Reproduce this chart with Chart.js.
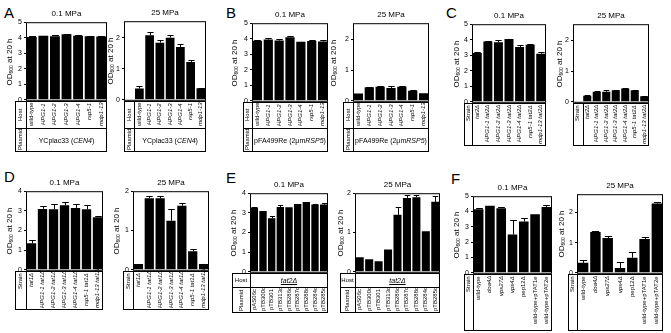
<!DOCTYPE html>
<html>
<head>
<meta charset="utf-8">
<script src="https://cdn.jsdelivr.net/npm/chart.js@4.4.1/dist/chart.umd.min.js"></script>
<style>
  body { margin: 0; width: 671px; height: 333px; position: relative; background: #fff; overflow: hidden;
         font-family: "Liberation Sans", Arial, sans-serif; color: #000; }
  .abs { position: absolute; }
  .letter { font-size: 15px; line-height: 15px; }
  .title { font-size: 8px; line-height: 9px; text-align: center; }
  .ytitle { font-size: 8px; line-height: 9px; white-space: nowrap; transform: translate(-50%, -50%) rotate(-90deg); }
  .ytitle sub { font-size: 5px; vertical-align: -1px; }
  .frame { border: 1px solid #000; box-sizing: border-box; }
  .vline { border-left: 1px solid #000; width: 0; }
  .hline { border-top: 1px solid #000; height: 0; }
  .vtxt { writing-mode: vertical-rl; transform: rotate(180deg); font-size: 6px; line-height: 7px; width: 7px; white-space: nowrap; }
  .span { font-size: 7px; display: flex; align-items: center; justify-content: center; white-space: nowrap; }
</style>
</head>
<body>
<script>
Chart.defaults.font.family = '"Liberation Sans", Arial, sans-serif';

// category labels
const hpgHosts = ['wild-type', 'HPG1-1', 'HPG1-2', 'HPG1-3', 'HPG1-4', 'rsp5-1', 'mdp1-13'];
const tat2Strains = ['tat2Δ', 'HPG1-1 tat2Δ', 'HPG1-2 tat2Δ', 'HPG1-3 tat2Δ', 'HPG1-4 tat2Δ', 'rsp5-1 tat2Δ', 'mdp1-13 tat2Δ'];
const tat1Strains = ['tat1Δ', 'HPG1-1 tat1Δ', 'HPG1-2 tat1Δ', 'HPG1-3 tat1Δ', 'HPG1-4 tat1Δ', 'rsp5-1 tat1Δ', 'mdp1-13 tat1Δ'];
const tatPlasmids = ['pAS06c', 'pTB300c', 'pTB301', 'pTB313c', 'pTB286c', 'pTB287c', 'pTB288c', 'pTB284c', 'pTB285c'];
const fStrains = ['wild-type', 'doa4Δ', 'vps27Δ', 'vps4Δ', 'pep12Δ', 'wild-type+pTAT1e', 'wild-type+pTAT2e'];

// OD600 at 20 h, mean and upper error
const a01 = [4.05, 4.12, 4.1, 4.22, 4.12, 4.1, 4.08];
const a01Err = [0.04, 0.02, 0.05, 0.02, 0.08, 0.02, 0.05];
const a25 = [0.36, 2.08, 1.84, 2.0, 1.7, 1.22, 0.37];
const a25Err = [0.08, 0.1, 0.1, 0.1, 0.1, 0.05, 0.02];

const b01 = [3.87, 3.95, 3.88, 4.1, 3.8, 3.86, 3.82];
const b01Err = [0.02, 0.12, 0.08, 0.1, 0.02, 0.05, 0.08];
const b25 = [0.24, 0.44, 0.46, 0.42, 0.46, 0.33, 0.25];
const b25Err = [0, 0.01, 0.02, 0.06, 0.03, 0.01, 0];

const c01 = [3.15, 3.88, 3.83, 4.05, 3.53, 3.68, 3.1];
const c01Err = [0.05, 0.05, 0.12, 0.02, 0.15, 0.02, 0.08];
const c25 = [0.2, 0.33, 0.33, 0.38, 0.43, 0.38, 0.18];
const c25Err = [0.02, 0.02, 0.06, 0.02, 0.03, 0.01, 0.01];

const d01 = [1.35, 3.1, 3.08, 3.28, 3.15, 3.08, 2.67];
const d01Err = [0.15, 0.15, 0.25, 0.18, 0.18, 0.2, 0.08];
const d25 = [0.15, 1.82, 1.82, 1.25, 1.63, 0.47, 0.15];
const d25Err = [0, 0.05, 0.05, 0.3, 0.07, 0.07, 0.01];

const e01 = [3.27, 3.1, 2.73, 3.3, 3.28, 3.45, 3.55, 3.42, 3.42];
const e01Err = [0.03, 0, 0.1, 0.08, 0, 0, 0, 0.03, 0.08];
const e25 = [0.37, 0.32, 0.27, 0.57, 1.45, 1.88, 1.9, 1.03, 1.78];
const e25Err = [0, 0, 0, 0, 0.2, 0.08, 0.05, 0, 0.15];

const f01 = [4.15, 4.38, 4.22, 2.5, 3.35, 3.82, 4.3];
const f01Err = [0.1, 0, 0.08, 0.95, 0.25, 0, 0.15];
const f25 = [0.33, 1.35, 1.15, 0.16, 0.5, 1.12, 2.29];
const f25Err = [0.08, 0.03, 0.07, 0.2, 0.2, 0.08, 0.04];

// panel letters
const letters = [['A', 4, 5], ['B', 226, 5], ['C', 446, 5], ['D', 4, 169], ['E', 226, 170], ['F', 451, 171]];

const hostRows = (plasmid) => [
    { name: 'Host', h: 27, cats: true },
    { name: 'Plasmid', h: 24, html: plasmid }
];

// box = plot area [left, top, right, bottom]; colLeft = left edge of label column (null: inside box)
const panels = [
    { box: [26, 22, 107, 101], max: 5, title: '0.1 MPa', yt: 10, labels: hpgHosts, data: a01, err: a01Err,
      colLeft: 15, rows: hostRows('YCplac33 (<i>CEN4</i>)') },
    { box: [124, 21, 206, 101], max: 2.53, title: '25 MPa', yt: 111, labels: hpgHosts, data: a25, err: a25Err,
      colLeft: null, rows: hostRows('YCplac33 (<i>CEN4</i>)') },
    { box: [252, 23, 328, 102], max: 5, title: '0.1 MPa', yt: 235, labels: hpgHosts, data: b01, err: b01Err,
      colLeft: 243, rows: [{ name: 'Host', h: 26, cats: true }, { name: 'Plasmid', h: 24, html: 'pFA499Re (2μm <i>RSP5</i>)' }] },
    { box: [353, 23, 429, 102], max: 2.53, title: '25 MPa', yt: 334, labels: hpgHosts, data: b25, err: b25Err,
      colLeft: 343, rows: [{ name: 'Host', h: 26, cats: true }, { name: 'Plasmid', h: 24, html: 'pFA499Re (2μm <i>RSP5</i>)' }] },
    { box: [472, 24, 546, 103], max: 5, title: '0.1 MPa', yt: 457, labels: tat2Strains, data: c01, err: c01Err,
      colLeft: 464, rows: [{ name: 'Strain', h: 43, cats: true, top: true }] },
    { box: [573, 24, 649, 103], max: 2.53, title: '25 MPa', yt: 560, labels: tat2Strains, data: c25, err: c25Err,
      colLeft: null, rows: [{ name: 'Strain', h: 43, cats: true, top: true }] },
    { box: [26, 191, 103, 271], max: 4, title: '0.1 MPa', yt: 10, labels: tat1Strains, data: d01, err: d01Err,
      colLeft: 15, rows: [{ name: 'Strain', h: 39, cats: true, top: true }] },
    { box: [133, 191, 209, 271], max: 2, title: '25 MPa', yt: 117, labels: tat1Strains, data: d25, err: d25Err,
      colLeft: 123, rows: [{ name: 'Strain', h: 39, cats: true, top: true }] },
    { box: [250, 193, 328, 273], max: 4, title: '0.1 MPa', yt: 234, labels: tatPlasmids, data: e01, err: e01Err,
      colLeft: 232, rows: [{ name: 'Host', h: 14, flat: true, html: '<u><i>tat2Δ</i></u>' }, { name: 'Plasmid', h: 26, cats: true }] },
    { box: [355, 193, 440, 273], max: 2, title: '25 MPa', yt: 341, labels: tatPlasmids, data: e25, err: e25Err,
      colLeft: 340, rows: [{ name: 'Host', h: 14, flat: true, html: '<u><i>tat2Δ</i></u>' }, { name: 'Plasmid', h: 26, cats: true }] },
    { box: [473, 196, 552, 274], max: 5, title: '0.1 MPa', yt: 457, labels: fStrains, data: f01, err: f01Err,
      colLeft: 464, rows: [{ name: 'Strain', h: 57, cats: true, top: true }] },
    { box: [577, 194, 663, 274], max: 2.6, title: '25 MPa', yt: 562, labels: fStrains, data: f25, err: f25Err,
      colLeft: 568, rows: [{ name: 'Strain', h: 57, cats: true, top: true }] }
];

const AX = 12, PT = 6, PB = 5, PR = 2;

// plot frame and upward error bars
const frameAndErrors = {
    id: 'frameAndErrors',
    afterDatasetsDraw(chart) {
        const { ctx, chartArea: a, scales: { y } } = chart;
        const ds = chart.data.datasets[0];
        const meta = chart.getDatasetMeta(0);
        ctx.save();
        ctx.strokeStyle = '#000';
        ctx.lineWidth = 1;
        meta.data.forEach((bar, i) => {
            const e = ds.err[i];
            if (!e || ds.data[i] == null) return;
            const yTop = Math.round(y.getPixelForValue(ds.data[i] + e)) + 0.5;
            const x = Math.round(bar.x) + 0.5;
            const cap = bar.width * 0.35;
            ctx.beginPath();
            ctx.moveTo(x, bar.y);
            ctx.lineTo(x, yTop);
            ctx.moveTo(x - cap, yTop);
            ctx.lineTo(x + cap, yTop);
            ctx.stroke();
        });
        ctx.strokeRect(a.left + 0.5, a.top + 0.5, a.right - a.left - 1, a.bottom - a.top);
        ctx.restore();
    }
};

function el(cls, left, top, width, height, html) {
    const d = document.createElement('div');
    d.className = 'abs ' + cls;
    d.style.left = left + 'px';
    d.style.top = top + 'px';
    if (width != null) d.style.width = width + 'px';
    if (height != null) d.style.height = height + 'px';
    if (html != null) d.innerHTML = html;
    document.body.appendChild(d);
    return d;
}

function isGene(s) {
    return !(s.startsWith('wild') || s.startsWith('p'));
}

function drawPanel(p) {
    const [l, t, r, b] = p.box;
    const inside = p.colLeft == null;
    const n = p.labels.length;
    const labels = inside ? [''].concat(p.labels) : p.labels;
    const data = inside ? [null].concat(p.data) : p.data;
    const err = inside ? [0].concat(p.err) : p.err;

    const cv = document.createElement('canvas');
    cv.width = AX + (r - l) + PR;
    cv.height = PT + (b - t) + PB;
    cv.className = 'abs';
    cv.style.left = (l - AX) + 'px';
    cv.style.top = (t - PT) + 'px';
    document.body.appendChild(cv);

    new Chart(cv, {
        type: 'bar',
        data: {
            labels: labels,
            datasets: [{
                data: data,
                err: err,
                backgroundColor: '#000',
                borderWidth: 0,
                categoryPercentage: 0.85,
                barPercentage: 1
            }]
        },
        options: {
            responsive: false,
            animation: false,
            events: [],
            layout: { padding: { top: PT, right: PR, bottom: PB, left: 0 } },
            plugins: { legend: { display: false }, tooltip: { enabled: false } },
            scales: {
                x: { display: false, offset: true },
                y: {
                    min: 0,
                    max: p.max,
                    ticks: { stepSize: 1, color: '#000', font: { size: 7 }, padding: 2 },
                    grid: { drawOnChartArea: false, tickLength: 2, color: '#000' },
                    border: { display: false },
                    afterFit(s) { s.width = AX; },
                    afterBuildTicks(s) { s.ticks = s.ticks.filter(k => Number.isInteger(k.value)); }
                }
            }
        },
        plugins: [frameAndErrors]
    });

    // title and y axis title
    el('title', l, t - 13, r - l, 9, p.title);
    el('ytitle', p.yt, (t + b) / 2, null, null, 'OD<sub>600</sub> at 20 h');

    // table under the plot
    const slot = (r - l) / (n + (inside ? 1 : 0));
    const tl = inside ? l : p.colLeft;
    const colW = inside ? slot : l - p.colLeft;
    const total = p.rows.reduce((s, row) => s + row.h, 0);
    el('frame', tl, b, r - tl, total);
    el('vline', tl + colW, b, null, total);
    let y = b;
    p.rows.forEach((row, ri) => {
        if (ri > 0) el('hline', tl, y, r - tl, null);
        if (row.flat) {
            el('span', tl, y, colW, row.h, row.name).style.fontSize = '6px';
        } else {
            const lab = el('vtxt', tl + colW / 2 - 3.5, y + 2, null, row.h - 4, row.name);
            lab.style.textAlign = row.top ? 'end' : 'center';
        }
        if (row.cats) {
            p.labels.forEach((s, i) => {
                const cx = l + slot * (i + (inside ? 1 : 0) + 0.5);
                const d = el('vtxt', cx - 3.5, y + 2, null, row.h - 4, null);
                d.textContent = s;
                d.style.textAlign = 'end';
                if (isGene(s)) d.style.fontStyle = 'italic';
            });
        } else {
            el('span', tl + colW, y, r - tl - colW, row.h, row.html);
        }
        y += row.h;
    });
}

letters.forEach(([s, x, y]) => el('letter', x, y, null, null, s));
panels.forEach(drawPanel);
</script>
</body>
</html>
